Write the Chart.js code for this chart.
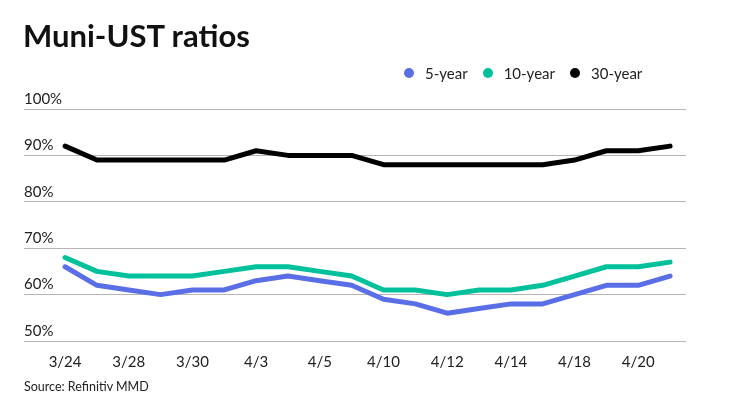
<!DOCTYPE html>
<html>
<head>
<meta charset="utf-8">
<script src="https://cdn.jsdelivr.net/npm/chart.js@4.4.0/dist/chart.umd.min.js"></script>
<style>
  body { margin: 0; background: #fff; font-family: Lato, "Open Sans", sans-serif; color: #222; }
  #wrap { position: relative; width: 740px; height: 416px; overflow: hidden; }
  #title { position: absolute; left: 23px; top: 17px; font-size: 31px; font-weight: bold; color: #111; line-height: 1.2; }
  #legend { position: absolute; left: 404px; top: 64px; font-size: 15px; color: #222; display: flex; }
  #legend span.item { display: flex; align-items: center; margin-right: 15px; }
  #legend span.dot { width: 10px; height: 10px; border-radius: 50%; display: inline-block; margin-right: 11px; }
  #source { position: absolute; left: 24px; top: 379px; font-size: 12.5px; color: #222; }
  #myChart { position: absolute; left: 0; top: 0; }
</style>
</head>
<body>
<div id="wrap">
  <canvas id="myChart" width="740" height="416"></canvas>
  <div id="title">Muni-UST ratios</div>
  <div id="legend"></div>
  <div id="source">Source: Refinitiv MMD</div>
</div>
<script>
// trading days, only every other one gets a label
let dates = ["3/24","3/27","3/28","3/29","3/30","3/31","4/3","4/4","4/5","4/6",
             "4/10","4/11","4/12","4/13","4/14","4/17","4/18","4/19","4/20","4/21"];

let fiveYear   = [66,62,61,60,61,61,63,64,63,62,59,58,56,57,58,58,60,62,62,64];
let tenYear    = [68,65,64,64,64,65,66,66,65,64,61,61,60,61,61,62,64,66,66,67];
let thirtyYear = [92,89,89,89,89,89,91,90,90,90,88,88,88,88,88,88,89,91,91,92];

let seriesNames  = ["5-year", "10-year", "30-year"];
let seriesColors = ["#5a6fe6", "#00c19b", "#000000"];
let yTicks = [50, 60, 70, 80, 90, 100];

function toPoints(values){
    let pts = [];
    for(let i = 0; i < values.length; i++){
        pts.push({x: i, y: values[i]});
    }
    return pts;
}

let allValues = [fiveYear, tenYear, thirtyYear];
let datasets = [];
for(let i = 0; i < allValues.length; i++){
    datasets.push({
        label: seriesNames[i],
        data: toPoints(allValues[i]),
        borderColor: seriesColors[i],
        backgroundColor: seriesColors[i],
        borderWidth: 5,
        pointRadius: 0,
        tension: 0,
        borderCapStyle: "round",
        borderJoinStyle: "round"
    });
}

// html legend
let legendRef = document.getElementById("legend");
for(let i = 0; i < seriesNames.length; i++){
    legendRef.innerHTML += `<span class="item"><span class="dot" style="background:${seriesColors[i]}"></span>${seriesNames[i]}</span>`;
}

new Chart("myChart", {
    type: "line",
    data: { datasets: datasets },
    options: {
        responsive: false,
        animation: false,
        devicePixelRatio: 1,
        layout: { padding: { left: 24, right: 54, top: 109, bottom: 0 } },
        plugins: {
            legend: { display: false },
            tooltip: { enabled: false }
        },
        scales: {
            x: {
                type: "linear",
                min: -1.29,
                max: 19.5,
                afterFit: function(axis){ axis.height = 75; },
                grid: { display: false },
                border: { display: false },
                ticks: {
                    stepSize: 2,
                    includeBounds: false,
                    autoSkip: false,
                    maxRotation: 0,
                    padding: 4,
                    color: "#222",
                    font: { family: "Lato", size: 15 },
                    callback: function(value){ return dates[value]; }
                }
            },
            y: {
                min: 50,
                max: 100,
                afterFit: function(axis){ axis.width = 0; },
                afterBuildTicks: function(axis){
                    axis.ticks = yTicks.map(function(v){ return {value: v}; });
                },
                grid: { color: "#b4b4b4", lineWidth: 1, drawTicks: false },
                border: { display: false },
                ticks: {
                    mirror: true,
                    padding: 0,
                    labelOffset: -10,
                    color: "#222",
                    font: { family: "Lato", size: 15 },
                    callback: function(value){ return value + "%"; }
                }
            }
        }
    }
});
</script>
</body>
</html>
